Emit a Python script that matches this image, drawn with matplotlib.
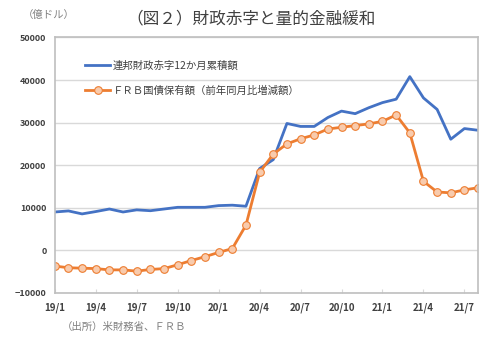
import matplotlib.pyplot as plt
import numpy as np

plt.rcParams['font.family'] = ['Noto Sans CJK JP', 'DejaVu Sans']

# monthly series, 2019/1 - 2021/8 (100 million dollars)
months = [f"{y}/{m}" for y in (19, 20, 21) for m in range(1, 13)][:32]
deficit = [9000, 9250, 8550, 9100, 9700, 9000, 9500, 9300, 9700, 10100,
           10100, 10100, 10500, 10600, 10350, 19200, 21300, 29800, 29100,
           29100, 31200, 32700, 32100, 33500, 34700, 35500, 40800, 35800,
           33100, 26100, 28600, 28200]
frb = [-3700, -4100, -4200, -4300, -4600, -4600, -4900, -4500, -4300, -3400,
       -2400, -1500, -500, 400, 5900, 18300, 22600, 25000, 26200, 27100,
       28500, 28900, 29300, 29700, 30300, 31800, 27600, 16200, 13700, 13500,
       14200, 14700]
tick_labels = ["19/1", "19/4", "19/7", "19/10", "20/1", "20/4", "20/7",
               "20/10", "21/1", "21/4", "21/7"]

fig = plt.figure(figsize=(4.98, 3.47), dpi=100)
ax = fig.add_axes([0.110, 0.156, 0.850, 0.736])

x = np.arange(len(months))
ax.plot(x, deficit, color='#4472C4', lw=2.0, label='連邦財政赤字12か月累積額')
ax.plot(x, frb, color='#ED7D31', lw=2.0, marker='o', ms=5.5,
        mfc='#F8CBAD', mec='#ED7D31', mew=0.8,
        label='ＦＲＢ国債保有額（前年同月比増減額）')

ax.set_xlim(0, len(months) - 1)
ax.set_ylim(-10000, 50000)
ax.set_yticks(range(-10000, 50001, 10000))
ax.set_xticks(range(0, len(months), 3))
ax.set_xticklabels(tick_labels)
ax.grid(axis='y', color='#d9d9d9', lw=1)
ax.set_axisbelow(True)
for s in ax.spines.values():
    s.set_color('#bfbfbf')
    s.set_linewidth(1.2)
ax.tick_params(axis='x', direction='in', length=3, color='#d9d9d9',
               labelsize=7, pad=7)
ax.tick_params(axis='y', length=0, labelsize=6.5, pad=6)
for t in ax.get_xticklabels() + ax.get_yticklabels():
    t.set_fontweight('bold')
    t.set_color('#404040')

leg = ax.legend(loc='upper left', bbox_to_anchor=(0.05, 0.945), frameon=False,
                fontsize=7.5, handlelength=2.4, handletextpad=0.2,
                labelspacing=1.35)
for t in leg.get_texts():
    t.set_color('#404040')

fig.text(0.505, 0.945, '（図２）財政赤字と量的金融緩和', ha='center', va='center',
         fontsize=12, color='#404040')
fig.text(0.045, 0.958, '（億ドル）', ha='left', va='center', fontsize=7.5,
         color='#808080')
fig.text(0.125, 0.057, '（出所）米財務省、ＦＲＢ', ha='left', va='center',
         fontsize=7.5, color='#808080')

fig.savefig('out.png', dpi=100)
